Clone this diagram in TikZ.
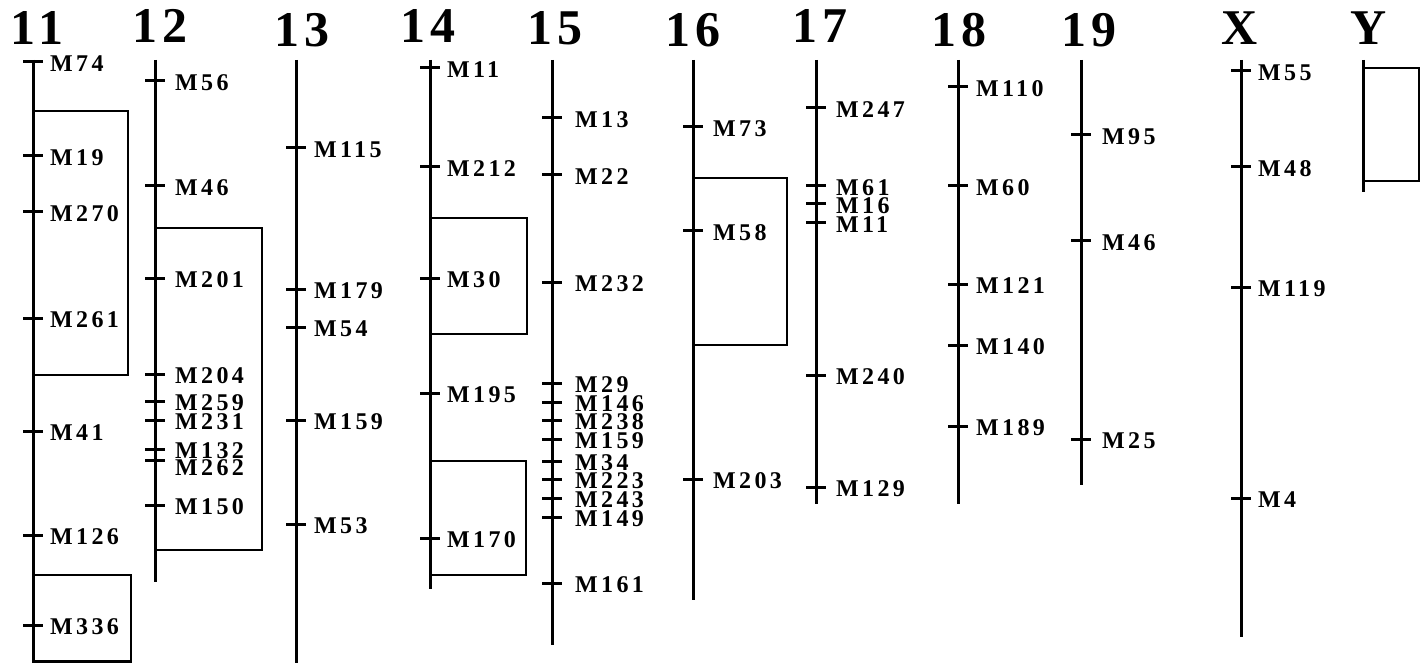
\documentclass[tikz,border=0pt]{standalone}
\usepackage{fontspec}
\setmainfont{Liberation Serif}
\newfontfamily\markerfont[LetterSpace=14]{Liberation Serif}
\newfontfamily\titlefont[LetterSpace=10]{Liberation Serif}

\begin{document}
\begin{tikzpicture}[
  x=1pt, y=-1pt,
  chrline/.style={line width=3pt},
  tickmark/.style={line width=3pt},
  qtlbox/.style={draw, line width=2.5pt},
  mlabel/.style={anchor=west, inner sep=0pt, yshift=-1.5pt, font=\markerfont\bfseries\fontsize{24}{24}\selectfont},
  chrtitle/.style={anchor=base, inner sep=0pt, font=\titlefont\bfseries\fontsize{50}{50}\selectfont}
]
\useasboundingbox (0,0) rectangle (1427,663);

% chromosome 11
\node[chrtitle] (t11) at (37,45) {11};
\draw[chrline] (33,60) coordinate (c11t) -- (33,663) coordinate (c11b);
\draw[qtlbox] (33,111) rectangle (128,375);
\draw[qtlbox] (33,575) rectangle (131,661.5);
\foreach \y/\m in {62/M74,156/M19,212/M270,318/M261,431/M41,535/M126,625/M336} {
  \draw[tickmark] (23,\y) -- (43,\y);
  \node[mlabel] (m11-\m) at (50,\y) {\m};
}

% chromosome 12
\node[chrtitle] (t12) at (160,43) {12};
\draw[chrline] (155,60) coordinate (c12t) -- (155,582) coordinate (c12b);
\draw[qtlbox] (155,228) rectangle (262,550);
\foreach \y/\m in {81/M56,186/M46,278/M201,374/M204,401/M259,420/M231,449/M132,505/M150} {
  \draw[tickmark] (145,\y) -- (165,\y);
  \node[mlabel] (m12-\m) at (175,\y) {\m};
}
\draw[tickmark] (145,460) -- (165,460);
\node[mlabel] (m12-M262) at (175,466) {M262};

% chromosome 13
\node[chrtitle] (t13) at (302,47) {13};
\draw[chrline] (296,60) coordinate (c13t) -- (296,663) coordinate (c13b);
\foreach \y/\m in {148/M115,289/M179,327/M54,420/M159,524/M53} {
  \draw[tickmark] (286,\y) -- (306,\y);
  \node[mlabel] (m13-\m) at (314,\y) {\m};
}

% chromosome 14
\node[chrtitle] (t14) at (428,43) {14};
\draw[chrline] (430,60) coordinate (c14t) -- (430,589) coordinate (c14b);
\draw[qtlbox] (430,218) rectangle (527,334);
\draw[qtlbox] (430,461) rectangle (526,575);
\foreach \y/\m in {68/M11,167/M212,278/M30,393/M195,538/M170} {
  \draw[tickmark] (420,\y) -- (440,\y);
  \node[mlabel] (m14-\m) at (447,\y) {\m};
}

% chromosome 15
\node[chrtitle] (t15) at (555,45) {15};
\draw[chrline] (552,60) coordinate (c15t) -- (552,645) coordinate (c15b);
\foreach \y/\m in {118/M13,175/M22,282/M232,383/M29,402/M146,420/M238,439/M159,461/M34,479/M223,498/M243,517/M149,583/M161} {
  \draw[tickmark] (542,\y) -- (562,\y);
  \node[mlabel] (m15-\m) at (575,\y) {\m};
}

% chromosome 16
\node[chrtitle] (t16) at (693,47) {16};
\draw[chrline] (693,60) coordinate (c16t) -- (693,600) coordinate (c16b);
\draw[qtlbox] (693,178) rectangle (787,345);
\foreach \y/\m in {127/M73,231/M58,479/M203} {
  \draw[tickmark] (683,\y) -- (703,\y);
  \node[mlabel] (m16-\m) at (713,\y) {\m};
}

% chromosome 17
\node[chrtitle] (t17) at (820,43) {17};
\draw[chrline] (816,60) coordinate (c17t) -- (816,504) coordinate (c17b);
\foreach \y/\m in {108/M247,186/M61,204/M16,223/M11,375/M240,487/M129} {
  \draw[tickmark] (806,\y) -- (826,\y);
  \node[mlabel] (m17-\m) at (836,\y) {\m};
}

% chromosome 18
\node[chrtitle] (t18) at (959,47) {18};
\draw[chrline] (958,60) coordinate (c18t) -- (958,504) coordinate (c18b);
\foreach \y/\m in {87/M110,186/M60,284/M121,345/M140,426/M189} {
  \draw[tickmark] (948,\y) -- (968,\y);
  \node[mlabel] (m18-\m) at (976,\y) {\m};
}

% chromosome 19
\node[chrtitle] (t19) at (1089,47) {19};
\draw[chrline] (1081,60) coordinate (c19t) -- (1081,485) coordinate (c19b);
\foreach \y/\m in {135/M95,241/M46,439/M25} {
  \draw[tickmark] (1071,\y) -- (1091,\y);
  \node[mlabel] (m19-\m) at (1102,\y) {\m};
}

% chromosome X
\node[chrtitle] (tX) at (1240,45) {X};
\draw[chrline] (1241,60) coordinate (cXt) -- (1241,637) coordinate (cXb);
\foreach \y/\m in {71/M55,167/M48,287/M119,498/M4} {
  \draw[tickmark] (1231,\y) -- (1251,\y);
  \node[mlabel] (mX-\m) at (1258,\y) {\m};
}

% chromosome Y
\node[chrtitle] (tY) at (1369,45) {Y};
\draw[chrline] (1363,60) coordinate (cYt) -- (1363,192) coordinate (cYb);
\draw[qtlbox] (1363,68) rectangle (1419,181);
\end{tikzpicture}
\end{document}
